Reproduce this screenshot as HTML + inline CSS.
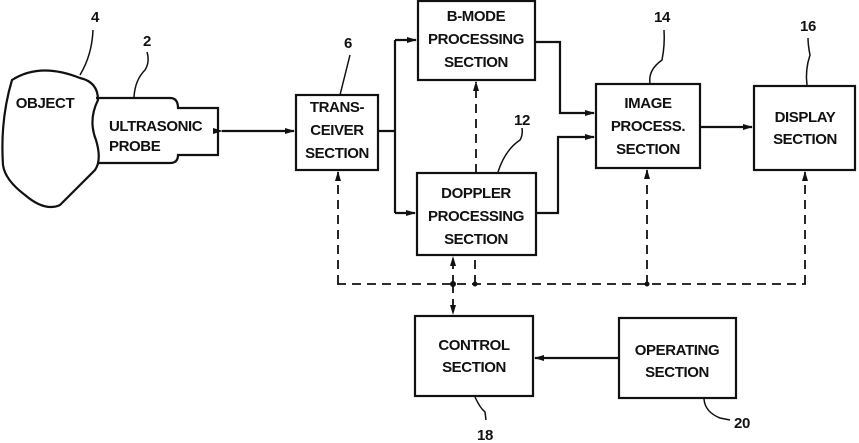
<!DOCTYPE html>
<html><head><style>body{margin:0;background:#fff}svg{display:block}text{font-family:"Liberation Sans",sans-serif;font-weight:bold;font-size:15px;letter-spacing:-0.4px;fill:#111;text-anchor:middle}</style></head><body>
<svg width="859" height="443" viewBox="0 0 859 443">
<defs><marker id="a" markerWidth="10" markerHeight="8" refX="9" refY="4" orient="auto" markerUnits="userSpaceOnUse"><path d="M0,1 L10,4 L0,7z" fill="#111"/></marker></defs>
<g fill="none" stroke="#111" stroke-width="2.2">
<path d="M12,80 Q40,62 80,78 Q98,82 98,100 Q88,120 96,140 Q102,160 95,170 Q80,185 60,205 Q45,212 25,195 Q5,180 3,165 Q0,120 12,80Z"/>
<path d="M96,98 L170,98 Q178,98 178,108 L218,108 L218,155 L178,155 Q178,163 170,163 L99,163"/>
<rect x="296" y="95" width="82" height="75"/>
<rect x="418" y="1" width="117" height="79"/>
<rect x="417" y="173" width="119" height="82"/>
<rect x="596" y="84" width="104" height="84"/>
<rect x="754" y="86" width="101" height="84"/>
<rect x="415" y="316" width="118" height="80"/>
<rect x="619" y="318" width="117" height="80"/>
<path d="M80,75 Q92,55 93,30" stroke-width="1.5"/>
<path d="M134,97 Q135,80 145,70 Q150,62 147,52" stroke-width="1.5"/>
<path d="M340,95 Q345,75 350,55" stroke-width="1.5"/>
<path d="M498,172 Q505,150 520,140 Q523,135 522,128" stroke-width="1.5"/>
<path d="M650,83 Q648,70 662,60 Q665,45 664,30" stroke-width="1.5"/>
<path d="M807,85 Q805,70 810,55 Q808,45 808,38" stroke-width="1.5"/>
<path d="M475,397 Q480,408 485,412 L486,420" stroke-width="1.5"/>
<path d="M704,399 Q705,412 720,418 L730,420" stroke-width="1.5"/>
<path d="M222,131 L294,131" marker-end="url(#a)" marker-start="url(#a)"/>
<path d="M378,131 L395,131 M395,40 L395,213"/>
<path d="M395,40 L416,40" marker-end="url(#a)"/>
<path d="M395,213 L415,213" marker-end="url(#a)"/>
<path d="M535,42 L560,42 L560,113 L594,113" marker-end="url(#a)"/>
<path d="M536,213 L558,213 L558,137 L594,137" marker-end="url(#a)"/>
<path d="M700,127 L752,127" marker-end="url(#a)"/>
<path d="M619,358 L535,358" marker-end="url(#a)"/>
<g stroke-dasharray="9,6" stroke-width="1.8">
<path d="M337,284 L806,284"/>
<path d="M338,284 L338,172" marker-end="url(#a)"/>
<path d="M453,284 L453,257" marker-end="url(#a)"/>
<path d="M453,284 L453,314" marker-end="url(#a)"/>
<path d="M475,284 L475,255"/>
<path d="M476,173 L476,82" marker-end="url(#a)"/>
<path d="M647,284 L647,170" marker-end="url(#a)"/>
<path d="M805,284 L805,172" marker-end="url(#a)"/>
</g>
</g>
<g fill="#111"><circle cx="453" cy="284" r="3"/><circle cx="475" cy="284" r="2.5"/><circle cx="647" cy="284" r="2.5"/></g>
<text x="45" y="108">OBJECT</text>
<text x="109" y="131" style="text-anchor:start">ULTRASONIC</text><text x="109" y="151" style="text-anchor:start">PROBE</text>
<text x="337" y="112">TRANS-</text><text x="337" y="135">CEIVER</text><text x="337" y="158">SECTION</text>
<text x="476" y="21">B-MODE</text><text x="476" y="44">PROCESSING</text><text x="476" y="67">SECTION</text>
<text x="476" y="198">DOPPLER</text><text x="476" y="221">PROCESSING</text><text x="476" y="244">SECTION</text>
<text x="648" y="108">IMAGE</text><text x="648" y="131">PROCESS.</text><text x="648" y="154">SECTION</text>
<text x="805" y="122">DISPLAY</text><text x="805" y="144">SECTION</text>
<text x="474" y="350">CONTROL</text><text x="474" y="372">SECTION</text>
<text x="677" y="355">OPERATING</text><text x="677" y="377">SECTION</text>
<text x="95" y="22">4</text><text x="147" y="46">2</text><text x="348" y="48">6</text>
<text x="522" y="125">12</text><text x="662" y="22">14</text><text x="808" y="31">16</text>
<text x="485" y="440">18</text><text x="742" y="428">20</text>
</svg>
</body></html>
